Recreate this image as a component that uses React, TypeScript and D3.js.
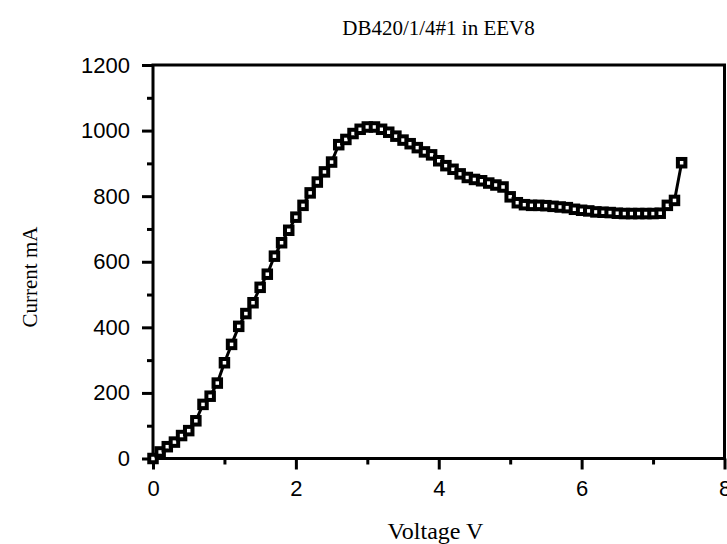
import React, { useEffect, useRef } from "react";
import * as d3 from "d3";

const voltage: number[] = [
  0.0, 0.1, 0.2, 0.3, 0.4, 0.5, 0.6, 0.7, 0.8, 0.9,
  1.0, 1.1, 1.2, 1.3, 1.4, 1.5, 1.6, 1.7, 1.8, 1.9,
  2.0, 2.1, 2.2, 2.3, 2.4, 2.5, 2.6, 2.7, 2.8, 2.9,
  3.0, 3.1, 3.2, 3.3, 3.4, 3.5, 3.6, 3.7, 3.8, 3.9,
  4.0, 4.1, 4.2, 4.3, 4.4, 4.5, 4.6, 4.7, 4.8, 4.9,
  5.0, 5.1, 5.2, 5.3, 5.4, 5.5, 5.6, 5.7, 5.8, 5.9,
  6.0, 6.1, 6.2, 6.3, 6.4, 6.5, 6.6, 6.7, 6.8, 6.9,
  7.0, 7.1, 7.2, 7.3, 7.4,
];
const current: number[] = [
  0, 20, 36, 50, 70, 85, 115, 165, 190, 230,
  292, 348, 403, 442, 475, 522, 562, 617, 658, 696,
  736, 772, 810, 843, 874, 904, 957, 973, 991, 1004,
  1011, 1011, 1004, 995, 983, 971, 960, 948, 935, 926,
  908, 893, 882, 868, 857, 851, 847, 840, 834, 828,
  798, 780, 774, 772, 772, 771, 769, 767, 765, 760,
  757, 755, 752, 751, 750, 748, 747, 747, 747, 747,
  747, 748, 772, 787, 902,
];
const xMajorTicks: number[] = [0, 2, 4, 6, 8];
const xMinorTicks: number[] = [1, 3, 5, 7];
const yMajorTicks: number[] = [0, 200, 400, 600, 800, 1000, 1200];
const yMinorTicks: number[] = [100, 300, 500, 700, 900, 1100];
const titleText = "DB420/1/4#1 in EEV8";
const xLabel = "Voltage V";
const yLabel = "Current mA";

const W = 727;
const H = 544;

export default function App() {
  const ref = useRef<SVGSVGElement | null>(null);

  useEffect(() => {
    const svg = d3.select(ref.current);
    svg.selectAll("*").remove();

    const x = d3.scaleLinear().domain([0, 8]).range([153, 724.5]);
    const y = d3.scaleLinear().domain([0, 1200]).range([458.5, 65]);

    svg.append("rect").attr("width", W).attr("height", H).attr("fill", "#fff");

    // frame
    svg
      .append("rect")
      .attr("x", x(0))
      .attr("y", y(1200))
      .attr("width", x(8) - x(0))
      .attr("height", y(0) - y(1200))
      .attr("fill", "none")
      .attr("stroke", "#000")
      .attr("stroke-width", 3);

    const tickFont = "'Liberation Sans', Arial, Helvetica, sans-serif";

    // x axis major
    const gx = svg
      .append("g")
      .attr("transform", `translate(0,${y(0)})`)
      .call(
        d3
          .axisBottom(x)
          .tickValues(xMajorTicks)
          .tickSize(11)
          .tickPadding(11)
          .tickFormat(d3.format("d") as any)
      );
    gx.select(".domain").remove();
    gx.selectAll(".tick line").attr("stroke", "#000").attr("stroke-width", 3);
    gx.selectAll(".tick text")
      .attr("font-family", tickFont)
      .attr("font-size", 22)
      .attr("fill", "#000");

    const gxm = svg
      .append("g")
      .attr("transform", `translate(0,${y(0)})`)
      .call(d3.axisBottom(x).tickValues(xMinorTicks).tickSize(6).tickFormat(() => ""));
    gxm.select(".domain").remove();
    gxm.selectAll(".tick line").attr("stroke", "#000").attr("stroke-width", 3);

    // y axis major
    const gy = svg
      .append("g")
      .attr("transform", `translate(${x(0)},0)`)
      .call(
        d3
          .axisLeft(y)
          .tickValues(yMajorTicks)
          .tickSize(11)
          .tickPadding(12)
          .tickFormat(d3.format("d") as any)
      );
    gy.select(".domain").remove();
    gy.selectAll(".tick line").attr("stroke", "#000").attr("stroke-width", 3);
    gy.selectAll(".tick text")
      .attr("font-family", tickFont)
      .attr("font-size", 22)
      .attr("fill", "#000");

    const gym = svg
      .append("g")
      .attr("transform", `translate(${x(0)},0)`)
      .call(d3.axisLeft(y).tickValues(yMinorTicks).tickSize(6).tickFormat(() => ""));
    gym.select(".domain").remove();
    gym.selectAll(".tick line").attr("stroke", "#000").attr("stroke-width", 3);

    const data = voltage.map((v, i) => ({ v, c: current[i] }));

    // line
    const line = d3
      .line<{ v: number; c: number }>()
      .x((d) => x(d.v))
      .y((d) => y(d.c));
    svg
      .append("path")
      .datum(data)
      .attr("d", line)
      .attr("fill", "none")
      .attr("stroke", "#000")
      .attr("stroke-width", 3);

    // markers
    svg
      .append("g")
      .selectAll("rect")
      .data(data)
      .join("rect")
      .attr("x", (d) => x(d.v) - 3.75)
      .attr("y", (d) => y(d.c) - 3.75)
      .attr("width", 7.5)
      .attr("height", 7.5)
      .attr("fill", "#fff")
      .attr("stroke", "#000")
      .attr("stroke-width", 4);

    const serif = "'Liberation Serif', 'Times New Roman', Times, serif";
    svg
      .append("text")
      .attr("x", 438.5)
      .attr("y", 35)
      .attr("text-anchor", "middle")
      .attr("font-family", serif)
      .attr("font-size", 21)
      .attr("fill", "#000")
      .text(titleText);

    svg
      .append("text")
      .attr("x", 435.5)
      .attr("y", 539)
      .attr("text-anchor", "middle")
      .attr("font-family", serif)
      .attr("font-size", 24)
      .attr("fill", "#000")
      .text(xLabel);

    svg
      .append("text")
      .attr("transform", `translate(37,${277}) rotate(-90)`)
      .attr("text-anchor", "middle")
      .attr("font-family", serif)
      .attr("font-size", 21)
      .attr("fill", "#000")
      .text(yLabel);
  }, []);

  return (
    <svg
      ref={ref}
      width={W}
      height={H}
      style={{ position: "absolute", left: 0, top: 0, display: "block" }}
    />
  );
}
